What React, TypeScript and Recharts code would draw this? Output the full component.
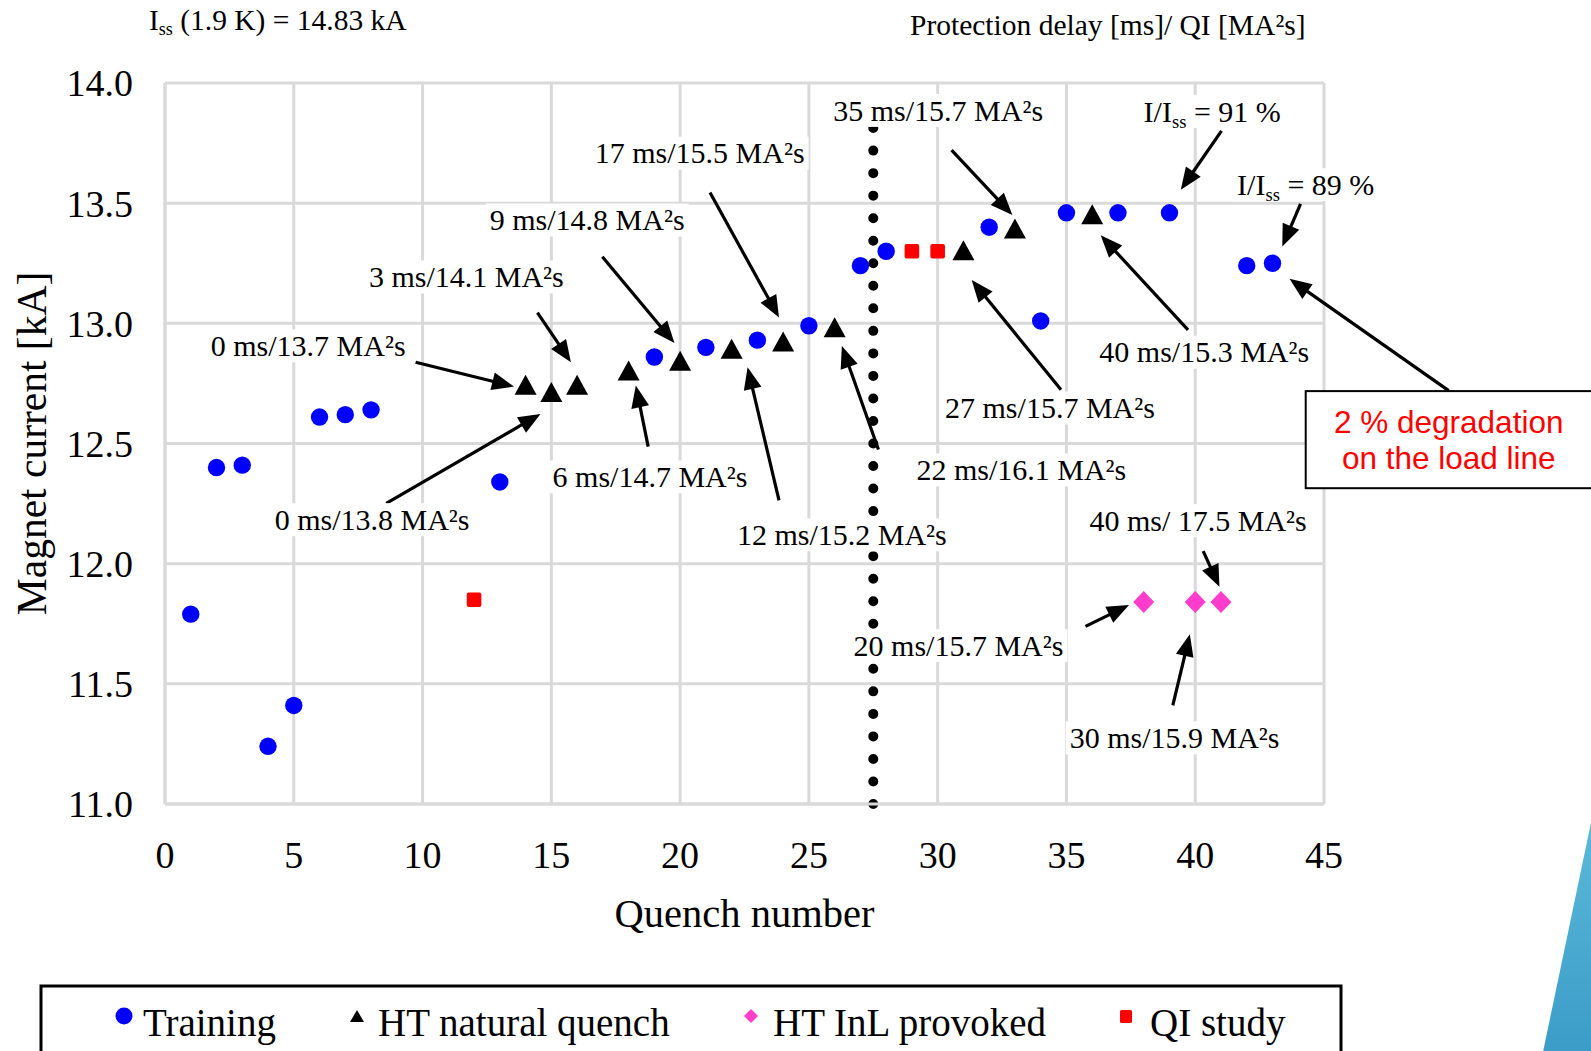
import React from "react";
import {
  ScatterChart,
  Scatter,
  XAxis,
  YAxis,
  CartesianGrid,
  ReferenceLine,
  ReferenceDot,
  ReferenceArea,
} from "recharts";

// quench number -> magnet current [kA], one pair of arrays per series
const trainingQuench = [1, 2, 3, 4, 5, 6, 7, 8, 13, 19, 21, 23, 25, 27, 28, 32, 34, 35, 37, 39, 42, 43];
const trainingCurrent = [
  11.79, 12.4, 12.41, 11.24, 11.41, 12.61, 12.62, 12.64, 12.34, 12.86, 12.9, 12.93, 12.99, 13.24, 13.3,
  13.4, 13.01, 13.46, 13.46, 13.46, 13.24, 13.25,
];

const htQuench = [14, 15, 16, 18, 20, 22, 24, 26, 31, 33, 36];
const htCurrent = [12.74, 12.71, 12.74, 12.8, 12.84, 12.89, 12.92, 12.98, 13.3, 13.39, 13.45];

const inlQuench = [38, 40, 41];
const inlCurrent = [11.84, 11.84, 11.84];

const qiQuench = [12, 29, 30];
const qiCurrent = [11.85, 13.3, 13.3];

const xTicks = [0, 5, 10, 15, 20, 25, 30, 35, 40, 45];
const yTicks = [11, 11.5, 12, 12.5, 13, 13.5, 14];

const boundaryQuench = 27.5;

// annotation text (centre) and arrow (tail -> head), in chart units
// "_ss_" marks a subscript
const notes = [
  { text: "0 ms/13.7 MA²s", at: [5.56, 12.906], from: [9.73, 12.838], to: [13.55, 12.737] },
  { text: "3 ms/14.1 MA²s", at: [11.7, 13.193], from: [14.46, 13.045], to: [15.76, 12.838] },
  { text: "9 ms/14.8 MA²s", at: [16.39, 13.43], from: [16.98, 13.277], to: [19.78, 12.918] },
  { text: "17 ms/15.5 MA²s", at: [20.76, 13.708], from: [21.16, 13.544], to: [23.84, 13.024] },
  { text: "0 ms/13.8 MA²s", at: [8.04, 12.183], from: [8.59, 12.251], to: [14.58, 12.623] },
  { text: "6 ms/14.7 MA²s", at: [18.83, 12.361], from: [18.76, 12.487], to: [18.28, 12.741] },
  { text: "12 ms/15.2 MA²s", at: [26.28, 12.12], from: [23.84, 12.263], to: [22.62, 12.817] },
  { text: "22 ms/16.1 MA²s", at: [33.25, 12.39], from: [27.7, 12.475], to: [26.28, 12.906] },
  { text: "35 ms/15.7 MA²s", at: [30.02, 13.886], from: [30.54, 13.721], to: [32.9, 13.451] },
  { text: "27 ms/15.7 MA²s", at: [34.36, 12.648], from: [34.79, 12.724], to: [31.32, 13.18] },
  { text: "I/I_ss_ = 91 %", at: [40.66, 13.882], from: [41.02, 13.801], to: [39.44, 13.556] },
  { text: "I/I_ss_ = 89 %", at: [44.29, 13.577], from: [44.09, 13.497], to: [43.38, 13.32] },
  { text: "40 ms/15.3 MA²s", at: [40.35, 12.88], from: [39.72, 12.973], to: [36.33, 13.366] },
  { text: "40 ms/ 17.5 MA²s", at: [40.11, 12.179], from: [40.31, 12.052], to: [40.94, 11.904] },
  { text: "20 ms/15.7 MA²s", at: [30.81, 11.659], from: [35.74, 11.739], to: [37.43, 11.828] },
  { text: "30 ms/15.9 MA²s", at: [39.2, 11.275], from: [39.13, 11.41], to: [39.79, 11.706] },
];

const degradationBox = { x1: 44.29, x2: 55.6, y1: 12.314, y2: 12.718 };
const degradationArrow = { from: [49.84, 12.72], to: [43.66, 13.185] };

const serif = "'Liberation Serif', 'Times New Roman', serif";
const sans = "'Liberation Sans', Arial, sans-serif";
const noteSize = 30;

const toPoints = (xs: number[], ys: number[]) => xs.map((x, i) => ({ x, y: ys[i] }));

let ctx: CanvasRenderingContext2D | null = null;
function measure(s: string, size: number) {
  if (!ctx && typeof document !== "undefined") ctx = document.createElement("canvas").getContext("2d");
  if (!ctx) return s.length * size * 0.5;
  ctx.font = `${size}px ${serif}`;
  return ctx.measureText(s).width;
}

function NoteText({ cx, cy, text }: any) {
  const parts = text.split("_");
  const w = measure(parts.join(""), noteSize) + 8;
  const h = noteSize * 1.1;
  const base = cy + noteSize * 0.34;
  return (
    <g>
      <rect x={cx - w / 2} y={cy - h / 2} width={w} height={h} fill="#fff" />
      <text x={cx} y={base} textAnchor="middle" fontFamily={serif} fontSize={noteSize} fill="#000">
        {parts.map((p: string, i: number) =>
          i % 2 === 1 ? (
            <tspan key={i} fontSize={noteSize * 0.62} dy={6}>
              {p}
            </tspan>
          ) : i > 0 ? (
            <tspan key={i} dy={-6}>
              {p}
            </tspan>
          ) : (
            <tspan key={i}>{p}</tspan>
          )
        )}
      </text>
    </g>
  );
}

function Arrow({ x1, y1, x2, y2 }: any) {
  const dx = x2 - x1;
  const dy = y2 - y1;
  const len = Math.hypot(dx, dy) || 1;
  const ux = dx / len;
  const uy = dy / len;
  const L = 22;
  const W = 9;
  const bx = x2 - ux * L;
  const by = y2 - uy * L;
  return (
    <g>
      <line x1={x1} y1={y1} x2={bx + ux * 2} y2={by + uy * 2} stroke="#000" strokeWidth={3.2} />
      <polygon
        points={`${x2},${y2} ${bx - uy * W},${by + ux * W} ${bx + uy * W},${by - ux * W}`}
        fill="#000"
      />
    </g>
  );
}

function DottedLine({ x1, y1, x2, y2 }: any) {
  const len = Math.abs(y2 - y1);
  return (
    <line
      x1={x1}
      y1={y1}
      x2={x2}
      y2={y2}
      stroke="#000"
      strokeWidth={10}
      strokeLinecap="round"
      strokeDasharray={`0 ${len / 32}`}
    />
  );
}

function DegradationBox({ x, y, width, height }: any) {
  const cx = x + 143;
  const cy = y + height / 2;
  return (
    <g>
      <rect x={x} y={y} width={width} height={height} fill="#fff" stroke="#000" strokeWidth={2} />
      <text x={cx} y={cy - 18} dy="0.35em" textAnchor="middle" fontFamily={sans} fontSize={31.5} fill="#ff0000">
        2 % degradation
      </text>
      <text x={cx} y={cy + 18} dy="0.35em" textAnchor="middle" fontFamily={sans} fontSize={31.5} fill="#ff0000">
        on the load line
      </text>
    </g>
  );
}

const circle = (p: any) => <circle cx={p.cx} cy={p.cy} r={8.7} fill="#0000ff" />;
const triangle = (p: any) => (
  <polygon points={`${p.cx},${p.cy - 11} ${p.cx - 11},${p.cy + 9} ${p.cx + 11},${p.cy + 9}`} fill="#000" />
);
const square = (p: any) => (
  <rect x={p.cx - 7.3} y={p.cy - 7.3} width={14.6} height={14.6} rx={2} fill="#ff0000" />
);
const diamond = (p: any) => (
  <polygon points={`${p.cx},${p.cy - 11} ${p.cx + 10.5},${p.cy} ${p.cx},${p.cy + 11} ${p.cx - 10.5},${p.cy}`} fill="#ff3ccc" />
);

export default function App() {
  const training = toPoints(trainingQuench, trainingCurrent);
  const ht = toPoints(htQuench, htCurrent);
  const inl = toPoints(inlQuench, inlCurrent);
  const qi = toPoints(qiQuench, qiCurrent);

  return (
    <div style={{ position: "relative", width: 1591, height: 1051, overflow: "hidden", background: "#fff" }}>
      <style>{`html,body{margin:0;overflow:hidden;}`}</style>
      <ScatterChart width={1591} height={1051} margin={{ top: 83, right: 267, bottom: 0, left: 0 }}>
        <CartesianGrid stroke="#d9d9d9" strokeWidth={3} />
        <XAxis
          type="number"
          dataKey="x"
          domain={[0, 45]}
          ticks={xTicks}
          interval={0}
          height={247}
          tickLine={false}
          tickSize={0}
          tickMargin={37}
          axisLine={{ stroke: "#d9d9d9", strokeWidth: 3 }}
          tick={{ fontSize: 38, fill: "#000", fontFamily: serif }}
          label={{
            content: (props: any) => {
              const vb = props.viewBox;
              return (
                <text
                  x={vb.x + vb.width / 2}
                  y={vb.y + 109}
                  dy="0.35em"
                  textAnchor="middle"
                  fontFamily={serif}
                  fontSize={40.5}
                  fill="#000"
                >
                  Quench number
                </text>
              );
            },
          }}
        />
        <YAxis
          type="number"
          dataKey="y"
          domain={[11, 14]}
          ticks={yTicks}
          interval={0}
          width={165}
          tickLine={false}
          tickSize={0}
          tickMargin={32}
          axisLine={{ stroke: "#d9d9d9", strokeWidth: 3 }}
          tickFormatter={(v: number) => v.toFixed(1)}
          tick={{ fontSize: 38, fill: "#000", fontFamily: serif }}
          label={{
            content: (props: any) => {
              const vb = props.viewBox;
              const cx = vb.x + 31;
              const cy = vb.y + vb.height / 2;
              return (
                <text
                  x={cx}
                  y={cy}
                  dy="0.35em"
                  textAnchor="middle"
                  transform={`rotate(-90 ${cx} ${cy})`}
                  fontFamily={serif}
                  fontSize={41.5}
                  fill="#000"
                >
                  Magnet current [kA]
                </text>
              );
            },
          }}
        />

        <ReferenceArea
          x1={degradationBox.x1}
          x2={degradationBox.x2}
          y1={degradationBox.y1}
          y2={degradationBox.y2}
          ifOverflow="visible"
          shape={DegradationBox}
        />
        <ReferenceLine x={boundaryQuench} ifOverflow="visible" shape={DottedLine} />

        {notes.map((n, i) => (
          <ReferenceLine
            key={"a" + i}
            ifOverflow="visible"
            segment={[
              { x: n.from[0], y: n.from[1] },
              { x: n.to[0], y: n.to[1] },
            ]}
            shape={Arrow}
          />
        ))}
        <ReferenceLine
          ifOverflow="visible"
          segment={[
            { x: degradationArrow.from[0], y: degradationArrow.from[1] },
            { x: degradationArrow.to[0], y: degradationArrow.to[1] },
          ]}
          shape={Arrow}
        />
        {notes.map((n, i) => (
          <ReferenceDot
            key={"t" + i}
            x={n.at[0]}
            y={n.at[1]}
            r={0}
            ifOverflow="visible"
            shape={(p: any) => <NoteText cx={p.cx} cy={p.cy} text={n.text} />}
          />
        ))}

        <Scatter name="Training" data={training} shape={circle} isAnimationActive={false} />
        <Scatter name="HT natural quench" data={ht} shape={triangle} isAnimationActive={false} />
        <Scatter name="HT InL provoked" data={inl} shape={diamond} isAnimationActive={false} />
        <Scatter name="QI study" data={qi} shape={square} isAnimationActive={false} />
      </ScatterChart>

      <svg
        width={1591}
        height={1051}
        style={{ position: "absolute", left: 0, top: 0, pointerEvents: "none" }}
      >
        <defs>
          <linearGradient id="deco" x1="0" y1="0" x2="0" y2="1">
            <stop offset="0" stopColor="#5cb9da" />
            <stop offset="1" stopColor="#3b9cc7" />
          </linearGradient>
        </defs>
        <polygon points="1592,818 1543,1052 1592,1052" fill="url(#deco)" />

        <text x={149} y={30} fontFamily={serif} fontSize={29.5} fill="#000">
          I
          <tspan fontSize={18} dy={5}>
            ss
          </tspan>
          <tspan dy={-5}> (1.9 K) = 14.83 kA</tspan>
        </text>
        <text x={910} y={35} fontFamily={serif} fontSize={29.5} fill="#000">
          Protection delay [ms]/ QI [MA²s]
        </text>

        <rect x={41} y={986} width={1300} height={110} fill="none" stroke="#000" strokeWidth={3} />
        <g fontFamily={serif} fontSize={39} fill="#000">
          <circle cx={124} cy={1016} r={8.5} fill="#0000ff" />
          <text x={143} y={1036}>Training</text>
          <polygon points="357,1010 350,1022 364,1022" fill="#000" />
          <text x={378} y={1036}>HT natural quench</text>
          <polygon points="751,1009 758,1016 751,1023 744,1016" fill="#ff3ccc" />
          <text x={773} y={1036}>HT InL provoked</text>
          <rect x={1120} y={1010} width={12} height={13} rx={1.5} fill="#ff0000" />
          <text x={1150} y={1036}>QI study</text>
        </g>
      </svg>
    </div>
  );
}
